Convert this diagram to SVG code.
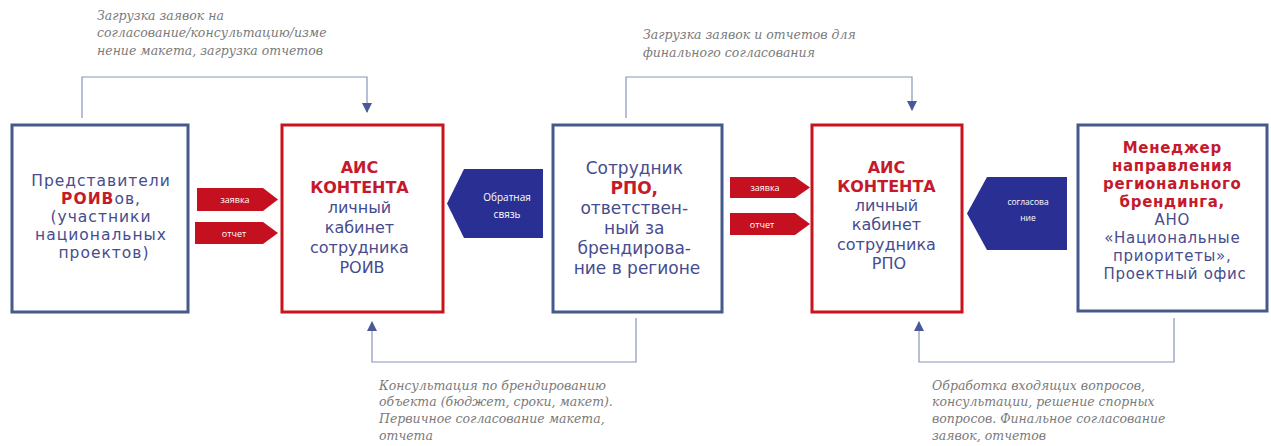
<svg xmlns="http://www.w3.org/2000/svg" width="1271" height="446" viewBox="0 0 1271 446">
<style>
.box-b{fill:#ffffff;stroke:#45598a;stroke-width:3}
.box-r{fill:#ffffff;stroke:#c8141f;stroke-width:3}
.t{font-family:"DejaVu Sans","Open Sans",sans-serif;text-anchor:middle;fill:#464c8e}
.r{fill:#c41a2b;font-weight:bold}
.note{font-family:"DejaVu Serif","Liberation Serif",serif;font-style:italic;font-size:12.5px;fill:#7a7a7a}
.conn{fill:none;stroke:#8a94b8;stroke-width:1.2}
.arr-r{fill:#c5101f}
.arr-b{fill:#2a2f93}
.lbl-w{font-family:"Open Sans","DejaVu Sans",sans-serif;text-anchor:middle;fill:#ffffff}
</style>
<defs>
<marker id="ah" viewBox="0 0 10 10" refX="9" refY="5" markerWidth="10" markerHeight="10" markerUnits="userSpaceOnUse" orient="auto">
<path d="M0,0 L10,5 L0,10 z" fill="#4a5896"/>
</marker>
</defs>
<rect width="1271" height="446" fill="#ffffff"/>

<g id="connectors">
<polyline class="conn" points="82,118 82,77 367,77 367,112" marker-end="url(#ah)"/>
<polyline class="conn" points="626,118 626,77 912,77 912,110" marker-end="url(#ah)"/>
<polyline class="conn" points="636,318 636,362 372,362 372,322" marker-end="url(#ah)"/>
<polyline class="conn" points="1174,318 1174,362 919,362 919,322" marker-end="url(#ah)"/>
<g id="arrow-zayavka-1"><polygon class="arr-r" points="197,188 263,188 278,199.5 263,211 197,211"/><text class="lbl-w" x="235" y="203" font-size="9">заявка</text></g>
<g id="arrow-otchet-1"><polygon class="arr-r" points="195,222 263,222 278,233 263,244 195,244"/><text class="lbl-w" x="234" y="236.5" font-size="9">отчет</text></g>
<g id="arrow-zayavka-2"><polygon class="arr-r" points="730,177 795,177 810,187.5 795,198 730,198"/><text class="lbl-w" x="765" y="191" font-size="9">заявка</text></g>
<g id="arrow-otchet-2"><polygon class="arr-r" points="730,213 795,213 810,224 795,235 730,235"/><text class="lbl-w" x="762" y="227.5" font-size="9">отчет</text></g>
<g id="arrow-feedback"><polygon class="arr-b" points="447,203.5 464,169 543,169 543,238 464,238"/><text class="lbl-w" x="507" y="201" font-size="10">Обратная</text><text class="lbl-w" x="507" y="218" font-size="10">связь</text></g>
<g id="arrow-approval"><polygon class="arr-b" points="967,213.5 987,177 1067,177 1067,250 987,250"/><text class="lbl-w" x="1028" y="205" font-size="8.5">согласова</text><text class="lbl-w" x="1028" y="221" font-size="8.5">ние</text></g>
</g>

<g id="notes">
<text class="note" x="97" y="20">Загрузка заявок на</text>
<text class="note" x="97" y="37">согласование/консультацию/изме</text>
<text class="note" x="97" y="55">нение макета, загрузка отчетов</text>
<text class="note" x="643" y="39">Загрузка заявок и отчетов для</text>
<text class="note" x="643" y="57">финального согласования</text>
<text class="note" x="379" y="390">Консультация по брендированию</text>
<text class="note" x="379" y="406">объекта (бюджет, сроки, макет).</text>
<text class="note" x="379" y="423">Первичное согласование макета,</text>
<text class="note" x="379" y="440">отчета</text>
<text class="note" x="932" y="390">Обработка входящих вопросов,</text>
<text class="note" x="932" y="406">консультации, решение спорных</text>
<text class="note" x="932" y="423">вопросов. Финальное согласование</text>
<text class="note" x="932" y="440">заявок, отчетов</text>
</g>

<g id="node-roiv-reps">
<rect class="box-b" x="12" y="125" width="176" height="187"/>
<text class="t" font-size="15.5" letter-spacing="1">
<tspan x="104" y="186">Представители</tspan>
<tspan x="104" y="204"><tspan class="r">РОИВ</tspan>ов,</tspan>
<tspan x="104" y="222">(участники</tspan>
<tspan x="104" y="240">национальных</tspan>
<tspan x="104" y="258">проектов)</tspan>
</text>
</g>

<g id="node-ais-roiv">
<rect class="box-r" x="282" y="125" width="161" height="187"/>
<text class="t" font-size="16">
<tspan class="r" x="362" y="173">АИС</tspan>
<tspan class="r" x="362" y="193">КОНТЕНТА</tspan>
<tspan x="362" y="213">личный</tspan>
<tspan x="362" y="233">кабинет</tspan>
<tspan x="362" y="253">сотрудника</tspan>
<tspan x="362" y="273">РОИВ</tspan>
</text>
</g>

<g id="node-rpo-employee">
<rect class="box-b" x="553" y="125" width="169" height="187"/>
<text class="t" font-size="17">
<tspan x="637" y="174">Сотрудник</tspan>
<tspan class="r" x="637" y="194">РПО,</tspan>
<tspan x="637" y="214">ответствен-</tspan>
<tspan x="637" y="234">ный за</tspan>
<tspan x="637" y="254">брендирова-</tspan>
<tspan x="637" y="274">ние в регионе</tspan>
</text>
</g>

<g id="node-ais-rpo">
<rect class="box-r" x="812" y="125" width="150" height="187"/>
<text class="t" font-size="16">
<tspan class="r" x="889" y="173">АИС</tspan>
<tspan class="r" x="889" y="192">КОНТЕНТА</tspan>
<tspan x="889" y="211">личный</tspan>
<tspan x="889" y="230">кабинет</tspan>
<tspan x="889" y="250">сотрудника</tspan>
<tspan x="889" y="269">РПО</tspan>
</text>
</g>

<g id="node-manager">
<rect class="box-b" x="1078" y="125" width="189" height="186"/>
<text class="t" font-size="15" letter-spacing="0.7">
<tspan class="r" x="1175" y="153">Менеджер</tspan>
<tspan class="r" x="1175" y="171">направления</tspan>
<tspan class="r" x="1175" y="189">регионального</tspan>
<tspan class="r" x="1175" y="207">брендинга,</tspan>
<tspan x="1175" y="225">АНО</tspan>
<tspan x="1175" y="243">«Национальные</tspan>
<tspan x="1175" y="261">приоритеты»,</tspan>
<tspan x="1175" y="279">Проектный офис</tspan>
</text>
</g>
</svg>
